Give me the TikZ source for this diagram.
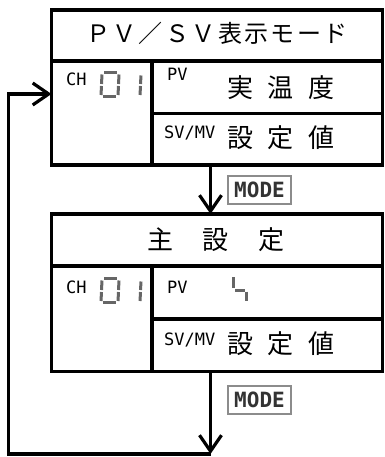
\documentclass[tikz,border=0pt]{standalone}
\usepackage{fontspec}
\setmainfont{Noto Sans CJK JP}
\newfontfamily\lblfont{DejaVu Sans Mono}
\usetikzlibrary{arrows.meta,positioning}

\begin{document}
\begin{tikzpicture}[
  x=1pt, y=-1pt,
  cell/.style={draw, line width=3.2pt, inner sep=0pt, outer sep=0pt, anchor=north west},
  head/.style={font=\fontsize{24}{24}\selectfont\addfontfeature{LetterSpace=10}, inner sep=0pt},
  big/.style={font=\fontsize{26}{26}\selectfont, inner sep=0pt},
  lbl/.style={font=\lblfont\fontsize{17}{17}\selectfont, inner sep=0pt, anchor=base west},
  key/.style={draw=black!45, line width=1.6pt, text=black!80, font=\lblfont\bfseries\fontsize{21}{21}\selectfont, minimum width=63pt, minimum height=28pt, inner sep=0pt},
  seg/.style={line width=3pt, draw=black!60},
  arr/.style={-{Straight Barb[length=16pt, width=22pt]}, line width=3.2pt}
]
\useasboundingbox (0,0) rectangle (384,457);

% PV/SV display mode
\node[cell, minimum width=331pt, minimum height=51pt] (title1) at (51.5,10) {};
\node[cell, minimum width=100.5pt, minimum height=104pt, below=0pt of title1.south west, anchor=north west] (ch1) {};
\node[cell, minimum width=230.5pt, minimum height=52.5pt, right=0pt of ch1.north east, anchor=north west] (pv1) {};
\node[cell, minimum width=230.5pt, minimum height=51.5pt, below=0pt of pv1.south west, anchor=north west] (sv1) {};
\node[head] (head1) at (217,33.5) {ＰＶ／ＳＶ表示モード};
\node[lbl] (chlbl1) at (66,85.5) {CH};
\node[lbl] (pvlbl1) at (167,81) {PV};
\node[lbl] (svlbl1) at (164,139) {SV/MV};
\node[big] (pvtxt1) at (281,87.5) {実\hspace{15pt}温\hspace{15pt}度};
\node[big] (svtxt1) at (281,138) {設\hspace{15pt}定\hspace{15pt}値};

% main setting
\node[cell, minimum width=331pt, minimum height=52pt] (title2) at (51.5,214) {};
\node[cell, minimum width=100.5pt, minimum height=105.5pt, below=0pt of title2.south west, anchor=north west] (ch2) {};
\node[cell, minimum width=230.5pt, minimum height=53pt, right=0pt of ch2.north east, anchor=north west] (pv2) {};
\node[cell, minimum width=230.5pt, minimum height=52.5pt, below=0pt of pv2.south west, anchor=north west] (sv2) {};
\node[big] (head2) at (216,240) {主\hspace{30pt}設\hspace{30pt}定};
\node[lbl] (chlbl2) at (66,293) {CH};
\node[lbl] (pvlbl2) at (167,293) {PV};
\node[lbl] (svlbl2) at (164,345) {SV/MV};
\node[big] (svtxt2) at (281,343.5) {設\hspace{15pt}定\hspace{15pt}値};
\draw[seg] (233.5,277) -- (233.5,288);
\draw[seg] (235,290) -- (244.5,290);
\draw[seg] (246,291.5) -- (246,301);

% channel 01
\foreach \dy in {0,206} {
  \begin{scope}[shift={(0,\dy)}]
    \draw[seg] (104,72.5) -- (117,72.5);
    \draw[seg] (102,74.5) -- (101.5,84);
    \draw[seg] (101.5,86) -- (101,95);
    \draw[seg] (119,74.5) -- (118.5,84);
    \draw[seg] (118.5,86) -- (118,95);
    \draw[seg] (103,96.5) -- (116,96.5);
    \draw[seg] (141,75.5) -- (140.5,84);
    \draw[seg] (140.5,86) -- (140,95);
  \end{scope}
}

\node[key] (key1) at (259.5,190) {MODE};
\node[key] (key2) at (259.5,400) {MODE};

\coordinate (loop) at (210.5,454);
\coordinate (back) at (8.5,94);
\draw[arr] (sv1.south -| loop) -- (title2.north -| loop);
\draw[arr] (sv2.south -| loop) -- (loop);
\draw[arr] (loop) -| (back) -- (ch1.west |- back);
\end{tikzpicture}
\end{document}
